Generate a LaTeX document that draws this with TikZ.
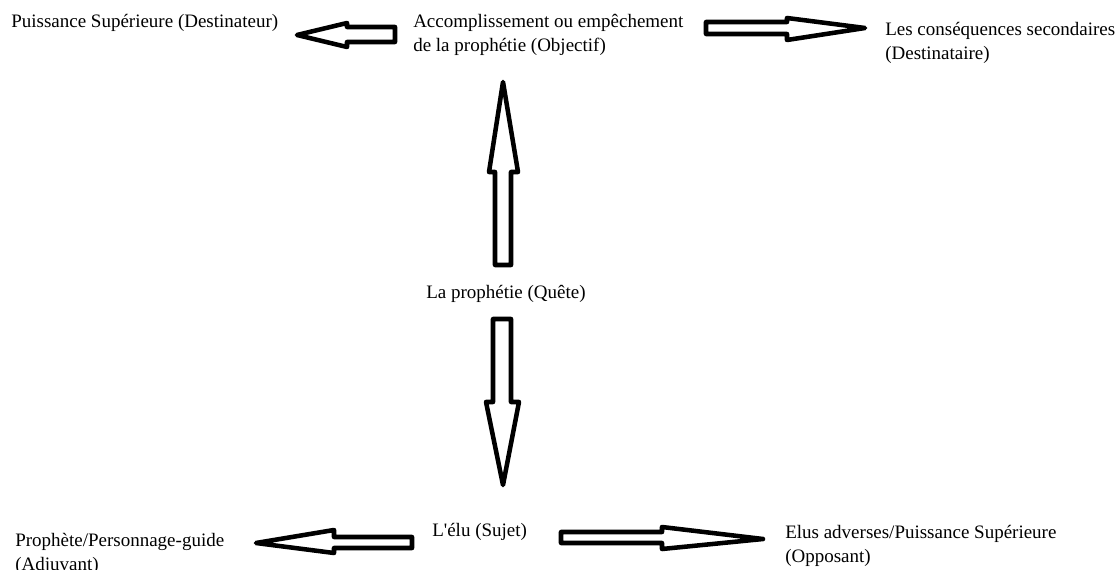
\documentclass[tikz,border=0pt]{standalone}
\usepackage{fontspec}
\setmainfont{Liberation Serif}[Ligatures=TeXOff]
\begin{document}
\begin{tikzpicture}[x=0.75pt,y=-0.75pt,
  lbl/.style={inner sep=0pt,anchor=base west,align=left,font=\fontsize{14.25}{18}\selectfont},
  blockarrow/.style={draw=black,fill=white,line width=3.4pt,line join=round}]
\useasboundingbox[fill=white] (0,0) rectangle (1120,570);
% labels (base = baseline of the last line)
\node[lbl] (dest) at (11,28) {Puissance Supérieure (Destinateur)};
\node[lbl] (obj) at (413,52) {Accomplissement ou empêchement\\de la prophétie (Objectif)};
\node[lbl] (dtaire) at (885,60) {Les conséquences secondaires\\(Destinataire)};
\node[lbl] (quete) at (426,298) {La prophétie (Quête)};
\node[lbl] (sujet) at (432,536) {L'élu (Sujet)};
\node[lbl] (adj) at (15,570) {Prophète/Personnage-guide\\(Adjuvant)};
\node[lbl] (opp) at (785,562) {Elus adverses/Puissance Supérieure\\(Opposant)};
% block arrows
\draw[blockarrow] (395,27) -- (347,27) -- (347,23) -- (297,35) -- (347,47) -- (347,42) -- (395,42) -- cycle;
\draw[blockarrow] (706,22) -- (787,22) -- (787,18) -- (865,28) -- (787,40) -- (787,34) -- (706,34) -- cycle;
\draw[blockarrow] (495,265) -- (495,172) -- (489,172) -- (503,82) -- (518,172) -- (511,172) -- (511,265) -- cycle;
\draw[blockarrow] (493,319) -- (511,319) -- (511,402) -- (519,402) -- (503,485) -- (486,402) -- (493,402) -- cycle;
\draw[blockarrow] (412,537) -- (334,537) -- (334,530) -- (256,543) -- (334,553) -- (334,548) -- (412,548) -- cycle;
\draw[blockarrow] (561,532) -- (662,532) -- (662,527) -- (763,539) -- (662,549) -- (662,543) -- (561,543) -- cycle;
\end{tikzpicture}
\end{document}
